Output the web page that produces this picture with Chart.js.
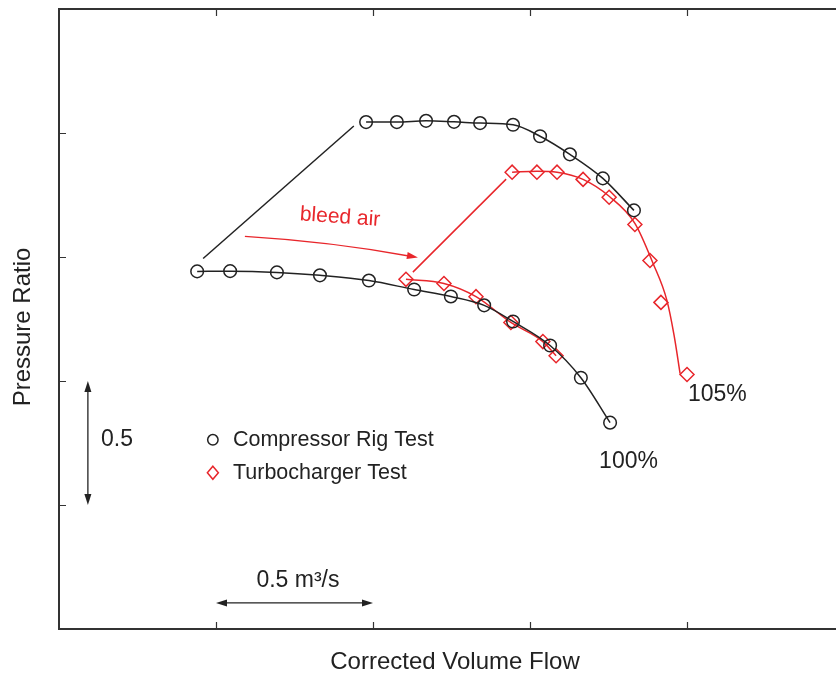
<!DOCTYPE html>
<html>
<head>
<meta charset="utf-8">
<script src="https://cdn.jsdelivr.net/npm/chart.js@4/dist/chart.umd.min.js"></script>
<style>
  html, body { margin: 0; padding: 0; background: #fff; }
  #wrap { width: 836px; height: 677px; }
</style>
</head>
<body>
<div id="wrap"><canvas id="myChart" width="836" height="677"></canvas></div>
<script>
// flow in m3/s, pressure ratio
const rig100X = [0.440, 0.545, 0.694, 0.831, 0.987, 1.131, 1.248, 1.354, 1.446, 1.564, 1.662, 1.755];
const rig100Y = [2.442, 2.443, 2.438, 2.426, 2.405, 2.369, 2.341, 2.305, 2.240, 2.143, 2.013, 1.832];

const rig105X = [0.978, 1.076, 1.169, 1.258, 1.341, 1.446, 1.532, 1.627, 1.732, 1.831];
const rig105Y = [3.044, 3.044, 3.049, 3.045, 3.040, 3.033, 2.987, 2.914, 2.817, 2.688];

const turbo100X = [1.105, 1.226, 1.328, 1.439, 1.541, 1.583];
const turbo100Y = [2.410, 2.393, 2.340, 2.236, 2.159, 2.102];

const turbo105X = [1.443, 1.522, 1.586, 1.669, 1.752, 1.834, 1.882, 1.917, 2.000];
const turbo105Y = [2.842, 2.842, 2.842, 2.813, 2.741, 2.631, 2.486, 2.317, 2.026];

// fitted curve through the turbocharger 105% points
const turbo105FitX = [1.443, 1.522, 1.586, 1.669, 1.752, 1.834, 1.892, 1.936, 1.959, 1.978];
const turbo105FitY = [2.842, 2.846, 2.842, 2.813, 2.745, 2.636, 2.474, 2.325, 2.183, 2.030];

// surge lines
const rigSurgeX = [0.459, 0.939];
const rigSurgeY = [2.494, 3.028];
const turboSurgeX = [1.127, 1.424];
const turboSurgeY = [2.439, 2.814];

const xTicks = [0.5, 1.0, 1.5, 2.0];
const yTicks = [1.5, 2.0, 2.5, 3.0];

const BLACK = '#222222';
const RED = '#e8262b';
const FONT = '"Liberation Sans", Arial, Helvetica, sans-serif';

const pts = (xs, ys) => xs.map((x, i) => ({ x: x, y: ys[i] }));

// frame, ticks, labels and arrows
const decorations = {
  id: 'decorations',
  afterDraw(chart) {
    const ctx = chart.ctx;
    const { left, top, right, bottom } = chart.chartArea;
    const xs = chart.scales.x, ys = chart.scales.y;
    const px = v => xs.getPixelForValue(v);
    const py = v => ys.getPixelForValue(v);

    ctx.save();
    ctx.strokeStyle = '#333';
    ctx.lineWidth = 2;
    ctx.beginPath();
    ctx.moveTo(right, top);
    ctx.lineTo(left, top);
    ctx.lineTo(left, bottom);
    ctx.lineTo(right, bottom);
    ctx.stroke();

    ctx.lineWidth = 1.2;
    ctx.beginPath();
    xTicks.forEach(t => {
      const x = Math.round(px(t)) + 0.5;
      ctx.moveTo(x, top); ctx.lineTo(x, top + 7);
      ctx.moveTo(x, bottom); ctx.lineTo(x, bottom - 7);
    });
    yTicks.forEach(t => {
      const y = Math.round(py(t)) + 0.5;
      ctx.moveTo(left, y); ctx.lineTo(left + 7, y);
    });
    ctx.stroke();

    const head = (x, y, ang, color) => {
      ctx.save();
      ctx.translate(x, y);
      ctx.rotate(ang);
      ctx.fillStyle = color;
      ctx.beginPath();
      ctx.moveTo(0, 0);
      ctx.lineTo(-11, -3.5);
      ctx.lineTo(-11, 3.5);
      ctx.closePath();
      ctx.fill();
      ctx.restore();
    };

    // 0.5 pressure-ratio scale bar
    ctx.strokeStyle = BLACK;
    ctx.lineWidth = 1.3;
    const vx = px(0.092);
    ctx.beginPath();
    ctx.moveTo(vx, py(2.0) + 8); ctx.lineTo(vx, py(1.5) - 8);
    ctx.stroke();
    head(vx, py(2.0), -Math.PI / 2, BLACK);
    head(vx, py(1.5), Math.PI / 2, BLACK);

    // 0.5 m3/s scale bar
    const hy = py(1.105);
    ctx.beginPath();
    ctx.moveTo(px(0.5) + 8, hy); ctx.lineTo(px(1.0) - 8, hy);
    ctx.stroke();
    head(px(0.5), hy, Math.PI, BLACK);
    head(px(1.0), hy, 0, BLACK);

    // bleed air arrow
    const sx = px(0.592), sy = py(2.583);
    const cx = px(0.866), cy = py(2.562);
    const ex = px(1.143), ey = py(2.498);
    ctx.strokeStyle = RED;
    ctx.beginPath();
    ctx.moveTo(sx, sy);
    ctx.quadraticCurveTo(cx, cy, ex - 6, ey - 1);
    ctx.stroke();
    head(ex, ey, Math.atan2(ey - cy, ex - cx), RED);

    ctx.textBaseline = 'middle';
    ctx.fillStyle = RED;
    ctx.font = '21px ' + FONT;
    ctx.save();
    ctx.translate(px(0.895), py(2.660));
    ctx.rotate(4 * Math.PI / 180);
    ctx.textAlign = 'center';
    ctx.fillText('bleed air', 0, 0);
    ctx.restore();

    ctx.fillStyle = BLACK;
    ctx.textAlign = 'left';
    ctx.font = '23px ' + FONT;
    ctx.fillText('0.5', px(0.134), py(1.763));
    ctx.fillText('100%', px(1.720), py(1.674));
    ctx.fillText('105%', px(2.003), py(1.945));
    ctx.textAlign = 'center';
    ctx.fillText('0.5 m\u00B3/s', px(0.761), py(1.194));

    // legend
    ctx.textAlign = 'left';
    ctx.font = '21.5px ' + FONT;
    const lx = px(0.490);
    const l1 = py(1.763), l2 = py(1.630);
    ctx.lineWidth = 1.5;
    ctx.strokeStyle = BLACK;
    ctx.beginPath();
    ctx.arc(lx, l1, 5.2, 0, Math.PI * 2);
    ctx.stroke();
    ctx.strokeStyle = RED;
    ctx.beginPath();
    ctx.moveTo(lx, l2 - 6.5); ctx.lineTo(lx + 5.5, l2);
    ctx.lineTo(lx, l2 + 6.5); ctx.lineTo(lx - 5.5, l2);
    ctx.closePath();
    ctx.stroke();
    ctx.fillText('Compressor Rig Test', px(0.554), l1);
    ctx.fillText('Turbocharger Test', px(0.554), l2);

    // axis titles
    ctx.font = '24px ' + FONT;
    ctx.textAlign = 'center';
    ctx.fillText('Corrected Volume Flow', 455, 662);
    ctx.save();
    ctx.translate(23, 327);
    ctx.rotate(-Math.PI / 2);
    ctx.fillText('Pressure Ratio', 0, 0);
    ctx.restore();

    ctx.restore();
  }
};

const lineStyle = (color) => ({
  showLine: true,
  borderColor: color,
  borderWidth: 1.5,
  cubicInterpolationMode: 'monotone',
  backgroundColor: 'transparent',
});

new Chart(document.getElementById('myChart'), {
  type: 'scatter',
  data: {
    datasets: [
      {
        label: 'Compressor Rig Test 100%',
        data: pts(rig100X, rig100Y),
        ...lineStyle(BLACK),
        pointStyle: 'circle',
        pointRadius: 6.3,
        pointBorderWidth: 1.5,
        pointBorderColor: BLACK,
        pointBackgroundColor: 'transparent',
      },
      {
        label: 'Compressor Rig Test 105%',
        data: pts(rig105X, rig105Y),
        ...lineStyle(BLACK),
        pointStyle: 'circle',
        pointRadius: 6.3,
        pointBorderWidth: 1.5,
        pointBorderColor: BLACK,
        pointBackgroundColor: 'transparent',
      },
      {
        label: 'Turbocharger Test 100%',
        data: pts(turbo100X, turbo100Y),
        ...lineStyle(RED),
        pointStyle: 'rectRot',
        pointRadius: 7,
        pointBorderWidth: 1.5,
        pointBorderColor: RED,
        pointBackgroundColor: 'transparent',
      },
      {
        label: 'Turbocharger Test 105%',
        data: pts(turbo105X, turbo105Y),
        showLine: false,
        pointStyle: 'rectRot',
        pointRadius: 7,
        pointBorderWidth: 1.5,
        pointBorderColor: RED,
        pointBackgroundColor: 'transparent',
      },
      {
        label: 'Turbocharger 105% fit',
        data: pts(turbo105FitX, turbo105FitY),
        ...lineStyle(RED),
        pointRadius: 0,
      },
      {
        label: 'Rig surge',
        data: pts(rigSurgeX, rigSurgeY),
        ...lineStyle(BLACK),
        pointRadius: 0,
      },
      {
        label: 'Turbo surge',
        data: pts(turboSurgeX, turboSurgeY),
        ...lineStyle(RED),
        pointRadius: 0,
      },
    ],
  },
  options: {
    responsive: false,
    animation: false,
    devicePixelRatio: 1,
    layout: { autoPadding: false, padding: { left: 59, top: 9, right: 0, bottom: 48 } },
    scales: {
      x: { type: 'linear', min: 0, max: 2.4745, display: false },
      y: { type: 'linear', min: 1.0, max: 3.5, display: false },
    },
    plugins: {
      legend: { display: false },
      tooltip: { enabled: false },
    },
  },
  plugins: [decorations],
});
</script>
</body>
</html>
